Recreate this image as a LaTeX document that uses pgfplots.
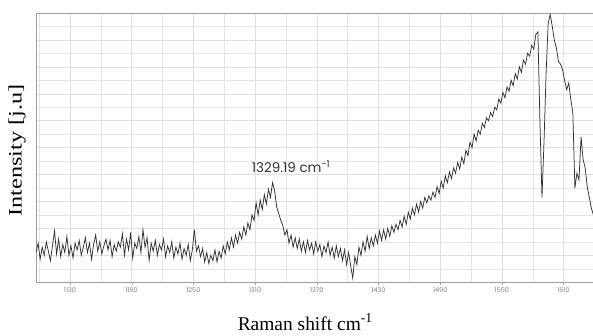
\documentclass[border=0pt]{standalone}
\usepackage{pgfplots}
\pgfplotsset{compat=1.18}
\usepackage{fontspec}
\setmainfont{Liberation Serif}
\newfontfamily\gothic{Poppins}
\usetikzlibrary{calc}
\begin{document}
\begin{tikzpicture}
\begin{axis}[name=ax, scale only axis, width=557bp, height=269bp,
 xmin=1097, xmax=1639, ymin=0, ymax=20,
 xtick={1130,1190,...,1610}, minor xtick={1100,1160,...,1640},
 ytick={0,2,...,20}, minor ytick={1,3,...,19}, yticklabels={},
 grid=both, major grid style={gray!24, line width=0.45bp}, minor grid style={gray!20, line width=0.45bp},
 axis line style={gray!75, line width=0.7bp},
 tick align=outside, xtick pos=bottom, ytick pos=left, major tick length=2.5bp, minor tick length=0pt,
 ytick style={draw=none}, xtick style={gray!70},
 xticklabel style={font=\gothic\fontsize{6.5}{7}\selectfont, text=gray},
 /pgf/number format/assume math mode=true, /pgf/number format/1000 sep={},
 xlabel={Raman shift cm\textsuperscript{-1}},
 xlabel style={font=\fontsize{19.5}{22}\selectfont, at={(axis description cs:0.483,-0.149)}, anchor=center},
 ylabel={\scalebox{1.28}[1]{Intensity [j.u]}},
 ylabel style={font=\fontsize{19}{22}\selectfont, at={(axis description cs:-0.034,0.49)}, anchor=center},
]
\addplot[black!80, line width=0.75bp] table {
x y
1097 2.2
1099 2.9
1101 1.7
1103 2.6
1105 2.0
1107 3.0
1109 2.3
1111 1.6
1113 2.7
1115 3.8
1117 2.1
1119 3.2
1121 1.9
1123 2.8
1125 2.2
1127 3.4
1129 2.0
1131 2.7
1133 1.8
1135 2.9
1137 2.4
1139 3.1
1141 2.0
1143 2.6
1145 3.3
1147 2.2
1149 2.9
1151 1.7
1153 2.8
1155 3.5
1157 2.3
1159 3.0
1161 2.1
1163 2.7
1165 3.2
1167 2.4
1169 3.1
1171 1.9
1173 2.8
1175 2.3
1177 3.0
1179 2.6
1181 3.6
1183 2.0
1185 3.2
1187 2.4
1189 3.7
1191 1.8
1193 2.9
1195 2.5
1197 3.4
1199 2.2
1201 3.9
1203 2.6
1205 3.3
1207 1.6
1209 2.9
1211 2.3
1213 3.1
1215 2.0
1217 2.8
1219 2.4
1221 3.2
1223 1.9
1225 2.7
1227 2.2
1229 3.0
1231 1.8
1233 2.6
1235 2.1
1237 2.9
1239 1.7
1241 2.5
1243 2.0
1245 2.8
1247 1.6
1249 2.4
1251 3.9
1253 2.3
1255 2.7
1257 1.9
1259 2.5
1261 1.5
1263 2.2
1265 1.4
1267 2.0
1269 1.6
1271 2.4
1273 1.5
1275 2.3
1277 1.8
1279 2.7
1281 2.1
1283 3.0
1285 2.4
1287 3.3
1289 2.6
1291 3.5
1293 2.9
1295 3.7
1297 3.2
1299 4.1
1301 3.5
1303 4.4
1305 3.9
1307 5.0
1309 4.6
1311 5.9
1313 5.0
1315 6.1
1317 5.4
1319 6.5
1321 5.8
1323 6.9
1325 6.3
1327 7.4
1329 6.8
1331 5.6
1333 5.1
1335 4.6
1337 4.2
1339 3.5
1341 3.9
1343 2.9
1345 3.5
1347 2.6
1349 3.3
1351 2.5
1353 3.2
1355 2.3
1357 3.0
1359 2.2
1361 3.1
1363 2.4
1365 2.9
1367 2.1
1369 3.0
1371 2.3
1373 2.8
1375 1.9
1377 2.7
1379 2.2
1381 3.0
1383 2.0
1385 2.6
1387 1.8
1389 2.7
1391 1.9
1393 2.5
1395 1.6
1397 2.4
1399 1.3
1401 2.2
1403 1.2
1405 0.3
1407 1.9
1409 1.3
1411 2.6
1413 2.0
1415 3.0
1417 2.3
1419 3.4
1421 2.5
1423 3.3
1425 2.7
1427 3.5
1429 2.9
1431 3.8
1433 3.1
1435 3.9
1437 3.2
1439 4.0
1441 3.4
1443 4.2
1445 3.7
1447 4.3
1449 3.9
1451 4.6
1453 4.1
1455 4.9
1457 4.3
1459 5.2
1461 4.7
1463 5.5
1465 5.0
1467 5.8
1469 5.2
1471 6.0
1473 5.5
1475 6.3
1477 5.9
1479 6.4
1481 6.1
1483 6.7
1485 6.3
1487 7.1
1489 6.6
1491 7.5
1493 7.0
1495 7.9
1497 7.4
1499 8.2
1501 7.7
1503 8.5
1505 8.1
1507 8.9
1509 8.4
1511 9.3
1513 8.8
1515 9.8
1517 9.4
1519 10.4
1521 10.0
1523 11.0
1525 10.5
1527 11.3
1529 11.0
1531 11.8
1533 11.5
1535 12.2
1537 12.0
1539 12.6
1541 12.3
1543 13.0
1545 12.8
1547 13.6
1549 13.3
1551 14.1
1553 13.7
1555 14.5
1557 14.2
1559 15.0
1561 14.6
1563 15.5
1565 15.1
1567 16.0
1569 15.6
1571 16.5
1573 16.2
1575 17.0
1577 16.8
1579 17.6
1581 17.3
1583 18.4
1585 18.6
1587 12.0
1589 6.3
1591 10.5
1593 15.5
1595 19.2
1597 19.9
1599 19.0
1601 18.0
1603 17.4
1605 16.4
1607 16.2
1609 15.8
1611 15.0
1613 14.3
1615 14.8
1617 13.6
1619 12.6
1621 7.0
1623 8.1
1625 7.6
1627 10.8
1629 9.1
1631 8.5
1633 7.1
1635 6.3
1637 5.5
1639 5.0
};
\node[font=\gothic\fontsize{13.5}{15}\selectfont, text=black!80] at (axis cs:1345,8.6) {1329.19 cm\textsuperscript{-1}};
\end{axis}
\pgfresetboundingbox
\path ($(ax.south west)+(-36bp,-53bp)$) rectangle ($(ax.north east)+(-0.4bp,13bp)$);
\end{tikzpicture}
\end{document}
